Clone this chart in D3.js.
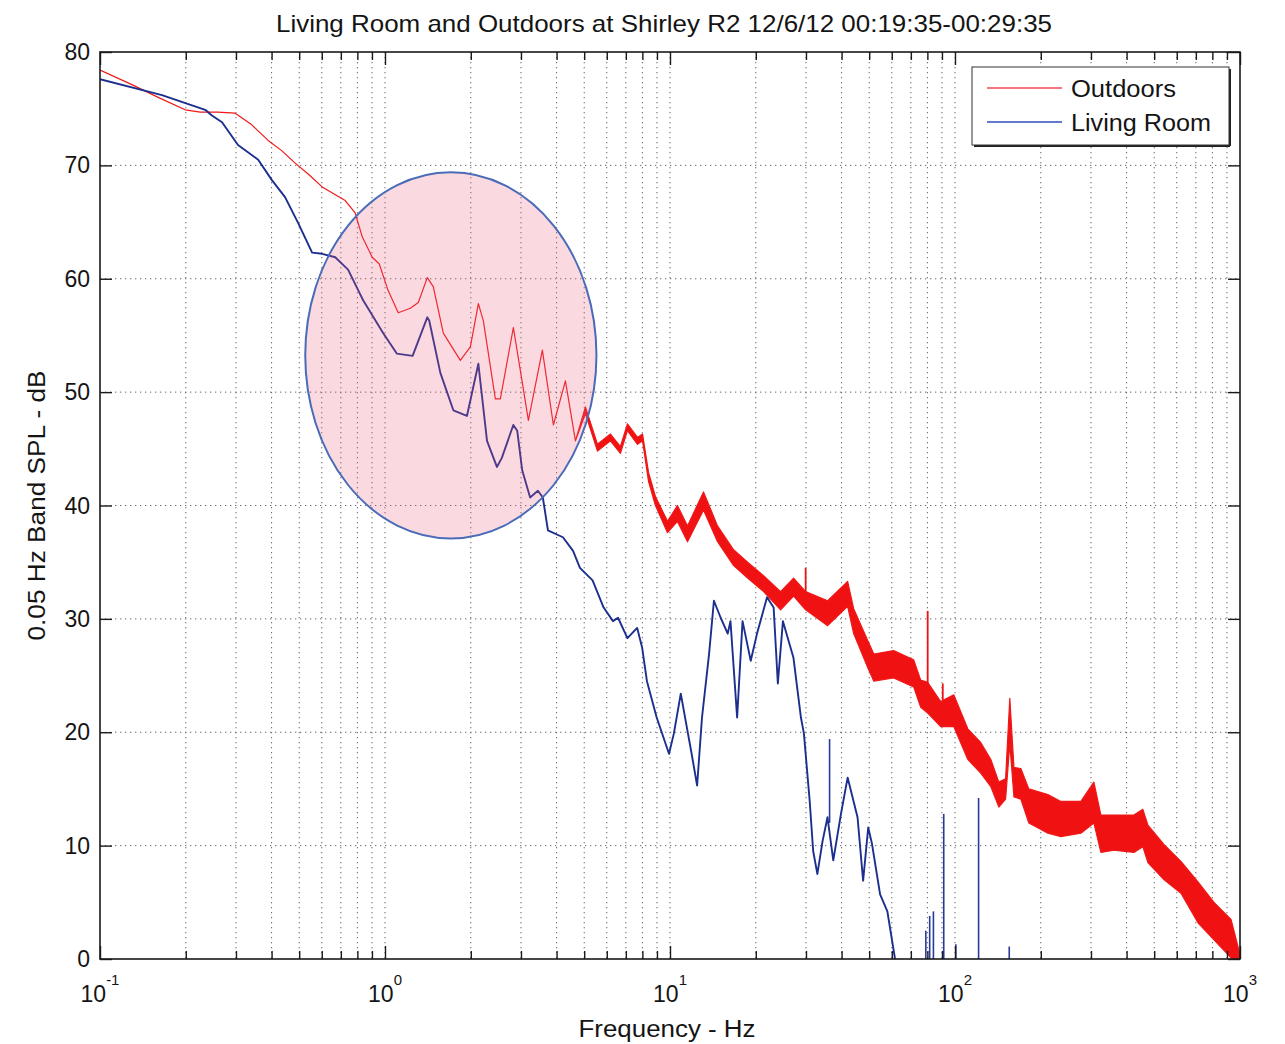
<!DOCTYPE html>
<html>
<head>
<meta charset="utf-8">
<script src="https://cdn.jsdelivr.net/npm/d3@7"></script>
<style>
body { margin: 0; background: #fff; }
text { font-family: "Liberation Sans", Arial, Helvetica, sans-serif; fill: #141414; }
.grid line { stroke: #666; stroke-width: 1; stroke-dasharray: 1.3,3.7; }
.tick-axis path { display: none; }
.tick-axis line { stroke: #1a1a1a; stroke-width: 1.4; }
</style>
</head>
<body>
<script>
// values
var outFreq = [0.100, 0.130, 0.160, 0.199, 0.225, 0.259, 0.298, 0.340, 0.389, 0.434, 0.484, 0.540, 0.602, 0.725, 0.786, 0.832, 0.902, 0.955,
  1.024, 1.113, 1.227, 1.309, 1.407, 1.477, 1.602, 1.838, 1.993, 2.126, 2.213, 2.439, 2.540, 2.821, 2.985, 3.185, 3.566, 3.898, 4.296, 4.658,
  5.049, 5.565, 6.18, 6.70, 7.09, 7.69, 8.01, 8.41, 8.89, 9.80, 10.62, 11.52, 13.11, 14.68, 16.72, 18.72, 21.30, 24.44, 27.14, 29.92, 35.74,
  42.0, 44.1, 49.4, 51.9, 60.9, 71.6, 75.8, 80.2, 89.1, 99.0, 110.9, 123.1, 133.6, 142.5, 150.5, 155.7, 161.0, 170.2, 181.6, 211.8, 235.2,
  276.5, 307.1, 325.0, 361.1, 424.4, 456.3, 475.2, 540.8, 620.6, 712.1, 810.5, 930.0, 1000];
var outLo = [78.4, 77.1, 76.0, 74.9, 74.7, 74.7, 74.6, 73.6, 72.2, 71.3, 70.2, 69.2, 68.1, 66.9, 65.8, 63.7, 61.9, 61.3,
  59.0, 57.0, 57.4, 57.9, 60.1, 59.3, 55.2, 52.8, 54.0, 57.8, 56.3, 49.4, 49.4, 55.7, 51.9, 47.5, 53.7, 47.1, 51.0, 45.7,
  48.1, 44.8, 45.7, 44.6, 46.6, 45.4, 45.7, 42.1, 40.0, 37.6, 38.6, 36.8, 39.6, 36.8, 34.7, 33.6, 32.4, 30.8, 32.0, 30.8, 29.4,
  31.1, 28.7, 25.7, 24.5, 24.8, 24.0, 22.2, 21.7, 20.5, 20.5, 17.6, 16.4, 15.2, 13.4, 14.1, 19.0, 14.3, 14.1, 12.0, 11.1, 10.8,
  11.1, 12.0, 9.4, 9.6, 9.4, 9.9, 8.5, 7.0, 5.8, 3.2, 1.7, 0.1, -1];
var outHi = [78.4, 77.1, 76.0, 74.9, 74.7, 74.7, 74.6, 73.6, 72.2, 71.3, 70.2, 69.2, 68.1, 66.9, 65.8, 63.7, 61.9, 61.3,
  59.0, 57.0, 57.4, 57.9, 60.1, 59.3, 55.2, 52.8, 54.0, 57.8, 56.3, 49.4, 49.4, 55.7, 51.9, 47.5, 53.7, 47.1, 51.0, 45.7,
  48.7, 45.4, 46.3, 45.2, 47.2, 46.0, 46.3, 42.9, 40.8, 38.6, 40.0, 38.2, 41.2, 38.2, 36.1, 35.0, 33.8, 32.4, 33.6, 32.4, 31.6,
  33.3, 30.9, 28.1, 26.9, 27.2, 26.4, 24.6, 24.4, 22.7, 23.3, 20.3, 19.1, 17.6, 15.6, 15.9, 23.0, 16.9, 16.8, 15.0, 14.5, 13.9,
  13.9, 15.6, 12.7, 12.7, 12.7, 13.2, 11.8, 10.1, 8.6, 6.8, 5.0, 3.5, 0.4];

var livFreq = [0.100, 0.165, 0.234, 0.247, 0.268, 0.305, 0.359, 0.401, 0.446, 0.496, 0.555, 0.602, 0.669, 0.742, 0.805, 0.838,
  0.986, 1.10, 1.25, 1.407, 1.43, 1.564, 1.737, 1.939, 2.126, 2.28, 2.47, 2.57, 2.82, 2.91, 3.03, 3.23, 3.44, 3.58, 3.73, 4.21,
  4.57, 4.83, 5.35, 5.85, 6.31, 6.57, 7.09, 7.67, 7.98, 8.30, 8.98, 9.92, 10.32, 10.91, 11.35, 11.91, 12.45, 12.95, 13.71,
  14.26, 15.06, 15.94, 16.3, 17.2, 17.97, 19.2, 20.2, 21.9, 23.1, 23.9, 24.9, 27.1, 28.8, 29.5, 30.9, 31.8, 32.9, 34.3, 35.7,
  37.4, 39.8, 42.0, 45.5, 47.6, 49.6, 51.1, 54.6, 57.9, 61.6, 64.0];
var livDb = [77.6, 76.2, 74.9, 74.4, 73.8, 71.8, 70.5, 68.7, 67.2, 64.9, 62.3, 62.2, 61.9, 60.8, 59.0, 58.1,
  55.2, 53.4, 53.2, 56.6, 56.3, 51.7, 48.4, 47.9, 52.5, 45.7, 43.4, 44.2, 47.1, 46.6, 43.1, 40.7, 41.3, 40.7, 37.8, 37.2,
  36.0, 34.5, 33.4, 31.0, 29.8, 30.1, 28.3, 29.2, 27.5, 24.5, 21.3, 18.1, 19.9, 23.4, 21.0, 18.1, 15.3, 21.3, 26.9,
  31.6, 30.1, 28.7, 29.8, 21.3, 29.8, 26.3, 28.7, 31.9, 31.0, 24.3, 29.8, 26.6, 21.3, 19.9, 14.0, 9.5, 7.5, 10.4, 12.5,
  8.7, 12.8, 16.0, 12.5, 6.9, 11.6, 10.2, 5.7, 4.2, 0, -3];

// narrow tonal spikes
var livSpikeFreq = [36.3, 79.0, 81.5, 84.0, 91.3, 100.7, 121.0, 155.0];
var livSpikeBase = [12, -1, -1, -1, -1, -1, -1, -1];
var livSpikePeak = [19.4, 2.5, 3.8, 4.2, 12.8, 1.3, 14.2, 1.1];
var outSpikeFreq = [29.92, 80.2, 90.6];
var outSpikeBase = [32.0, 23.0, 22.0];
var outSpikePeak = [34.5, 30.7, 24.3];

// hand-drawn highlight ellipse (frequency span, dB span)
var circleFreq = [0.525, 5.52];
var circleDb = [37.1, 69.4];

var xMajor = [0.1, 1, 10, 100, 1000];
var xExp = ["-1", "0", "1", "2", "3"];
var yTicks = [0, 10, 20, 30, 40, 50, 60, 70, 80];

var W = 1285, H = 1044;
var margin = {top: 52, right: 45, bottom: 85, left: 100};

var x = d3.scaleLog().domain([0.1, 1000]).range([margin.left, W - margin.right]);
var y = d3.scaleLinear().domain([0, 80]).range([H - margin.bottom, margin.top]);

var svg = d3.select("body").append("svg")
  .attr("width", W)
  .attr("height", H);

svg.append("rect").attr("width", W).attr("height", H).attr("fill", "#fff");

svg.append("defs").append("clipPath").attr("id", "plot")
  .append("rect")
  .attr("x", x(0.1)).attr("y", y(80))
  .attr("width", x(1000) - x(0.1)).attr("height", y(0) - y(80));

var allX = x.ticks();
var xMinor = allX.filter(function (v) { return xMajor.indexOf(v) < 0 && v > 0.1 && v < 1000; });

// dotted grid
var grid = svg.append("g").attr("class", "grid");
grid.selectAll("line.v")
  .data(allX.filter(function (v) { return v > 0.1 && v < 1000; }))
  .enter().append("line")
  .attr("x1", d => x(d)).attr("x2", d => x(d))
  .attr("y1", y(80)).attr("y2", y(0));
grid.selectAll("line.h")
  .data(yTicks.slice(1, -1))
  .enter().append("line")
  .attr("x1", x(0.1)).attr("x2", x(1000))
  .attr("y1", d => y(d)).attr("y2", d => y(d));

var plot = svg.append("g").attr("clip-path", "url(#plot)");

// Outdoors: narrow where smooth, banded where noisy
var outdoors = outFreq.map((f, i) => ({f: f, lo: outLo[i], hi: outHi[i]}));
var band = d3.area()
  .x(d => x(d.f))
  .y0(d => y(d.lo))
  .y1(d => y(d.hi));
plot.append("path")
  .datum(outdoors)
  .attr("d", band)
  .attr("fill", "#f01212")
  .attr("stroke", "#f01818")
  .attr("stroke-width", 1.2)
  .attr("stroke-linejoin", "round");

plot.selectAll("line.outspike")
  .data(outSpikeFreq)
  .enter().append("line")
  .attr("x1", d => x(d)).attr("x2", d => x(d))
  .attr("y1", (d, i) => y(outSpikeBase[i]))
  .attr("y2", (d, i) => y(outSpikePeak[i]))
  .attr("stroke", "#f01212")
  .attr("stroke-width", 1.8);

// Living Room
var living = livFreq.map((f, i) => ({f: f, v: livDb[i]}));
var line = d3.line()
  .x(d => x(d.f))
  .y(d => y(d.v));
plot.append("path")
  .datum(living)
  .attr("d", line)
  .attr("fill", "none")
  .attr("stroke", "#1c2f8e")
  .attr("stroke-width", 1.9)
  .attr("stroke-linejoin", "round");

plot.selectAll("line.livspike")
  .data(livSpikeFreq)
  .enter().append("line")
  .attr("x1", d => x(d)).attr("x2", d => x(d))
  .attr("y1", (d, i) => y(livSpikeBase[i]))
  .attr("y2", (d, i) => y(livSpikePeak[i]))
  .attr("stroke", "#2a3a9a")
  .attr("stroke-width", 1.6);

// highlight ellipse over the low-frequency hump
svg.append("ellipse")
  .attr("cx", (x(circleFreq[0]) + x(circleFreq[1])) / 2)
  .attr("cy", (y(circleDb[0]) + y(circleDb[1])) / 2)
  .attr("rx", (x(circleFreq[1]) - x(circleFreq[0])) / 2)
  .attr("ry", (y(circleDb[0]) - y(circleDb[1])) / 2)
  .attr("fill", "#f06080")
  .attr("fill-opacity", 0.24)
  .attr("stroke", "#4a6cb8")
  .attr("stroke-width", 2);

// axes box
svg.append("rect")
  .attr("x", x(0.1)).attr("y", y(80))
  .attr("width", x(1000) - x(0.1)).attr("height", y(0) - y(80))
  .attr("fill", "none")
  .attr("stroke", "#1a1a1a")
  .attr("stroke-width", 1.6);

// inward ticks on all four sides
function ticksX(axisFn, ypos, vals, len) {
  svg.append("g").attr("class", "tick-axis")
    .attr("transform", "translate(0," + ypos + ")")
    .call(axisFn(x).tickValues(vals).tickSize(-len).tickSizeOuter(0).tickFormat(""));
}
function ticksY(axisFn, xpos, vals, len) {
  svg.append("g").attr("class", "tick-axis")
    .attr("transform", "translate(" + xpos + ",0)")
    .call(axisFn(y).tickValues(vals).tickSize(-len).tickSizeOuter(0).tickFormat(""));
}
ticksX(d3.axisBottom, y(0), xMajor, 13);
ticksX(d3.axisBottom, y(0), xMinor, 8);
ticksX(d3.axisTop, y(80), xMajor, 13);
ticksX(d3.axisTop, y(80), xMinor, 8);
ticksY(d3.axisLeft, x(0.1), yTicks, 12);
ticksY(d3.axisRight, x(1000), yTicks, 12);

// tick labels
svg.append("g").selectAll("text")
  .data(yTicks)
  .enter().append("text")
  .attr("x", x(0.1) - 10)
  .attr("y", d => y(d) + 8)
  .attr("text-anchor", "end")
  .attr("font-size", 23)
  .text(d => d);

var xl = svg.append("g").selectAll("text")
  .data(xMajor)
  .enter().append("text")
  .attr("x", d => x(d))
  .attr("y", y(0) + 43)
  .attr("text-anchor", "middle")
  .attr("font-size", 23);
xl.append("tspan").text("10");
xl.append("tspan")
  .attr("font-size", 15)
  .attr("dy", -17)
  .text((d, i) => xExp[i]);

// titles
svg.append("text")
  .attr("x", 664).attr("y", 32)
  .attr("text-anchor", "middle")
  .attr("font-size", 24)
  .attr("textLength", 776)
  .attr("lengthAdjust", "spacingAndGlyphs")
  .text("Living Room and Outdoors at Shirley R2 12/6/12 00:19:35-00:29:35");

svg.append("text")
  .attr("x", (x(0.1) + x(1000)) / 2 - 3).attr("y", 1037)
  .attr("text-anchor", "middle")
  .attr("font-size", 23)
  .attr("textLength", 177)
  .attr("lengthAdjust", "spacingAndGlyphs")
  .text("Frequency - Hz");

svg.append("text")
  .attr("transform", "translate(45," + ((y(0) + y(80)) / 2) + ") rotate(-90)")
  .attr("text-anchor", "middle")
  .attr("font-size", 23)
  .attr("textLength", 270)
  .attr("lengthAdjust", "spacingAndGlyphs")
  .text("0.05 Hz Band SPL - dB");

// legend
var legendNames = ["Outdoors", "Living Room"];
var legendColors = ["#f04858", "#2e4cc0"];
var legendWidths = [105, 140];
var lg = svg.append("g").attr("transform", "translate(972,67)");
lg.append("line").attr("x1", 2).attr("x2", 258).attr("y1", 79).attr("y2", 79)
  .attr("stroke", "#222").attr("stroke-width", 2);
lg.append("line").attr("x1", 258).attr("x2", 258).attr("y1", 2).attr("y2", 79)
  .attr("stroke", "#222").attr("stroke-width", 2);
lg.append("rect")
  .attr("width", 257).attr("height", 78)
  .attr("fill", "#fff")
  .attr("stroke", "#333")
  .attr("stroke-width", 1);
var item = lg.selectAll("g.item")
  .data(legendNames)
  .enter().append("g")
  .attr("transform", (d, i) => "translate(0," + (21 + i * 34) + ")");
item.append("line")
  .attr("x1", 15).attr("x2", 90)
  .attr("stroke", (d, i) => legendColors[i])
  .attr("stroke-width", 1.6);
item.append("text")
  .attr("x", 99).attr("y", 9)
  .attr("font-size", 23)
  .attr("textLength", (d, i) => legendWidths[i])
  .attr("lengthAdjust", "spacingAndGlyphs")
  .text(d => d);
</script>
</body>
</html>
